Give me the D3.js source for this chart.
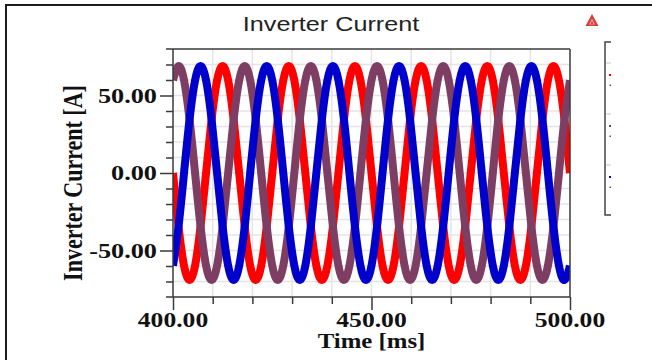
<!DOCTYPE html>
<html><head><meta charset="utf-8">
<script src="https://cdn.jsdelivr.net/npm/d3@7"></script>
<style>html,body{margin:0;padding:0;background:#fff;}svg{display:block;}</style>
</head><body>
<svg id="chart" width="652" height="360"></svg>
<script>
// ---- data ----
const timeMs = [
  400.00, 401.39, 402.78, 404.17, 405.56, 406.94, 408.33, 409.72, 411.11, 412.50, 413.89, 415.28,
  416.67, 418.06, 419.44, 420.83, 422.22, 423.61, 425.00, 426.39, 427.78, 429.17, 430.56, 431.94,
  433.33, 434.72, 436.11, 437.50, 438.89, 440.28, 441.67, 443.06, 444.44, 445.83, 447.22, 448.61,
  450.00, 451.39, 452.78, 454.17, 455.56, 456.94, 458.33, 459.72, 461.11, 462.50, 463.89, 465.28,
  466.67, 468.06, 469.44, 470.83, 472.22, 473.61, 475.00, 476.39, 477.78, 479.17, 480.56, 481.94,
  483.33, 484.72, 486.11, 487.50, 488.89, 490.28, 491.67, 493.06, 494.44, 495.83, 497.22, 498.61,
  500.00
];
const currentA = [ // red
  0, -34.5, -59.8, -69, -59.8, -34.5, 0, 34.5, 59.8, 69, 59.8, 34.5,
  0, -34.5, -59.8, -69, -59.8, -34.5, 0, 34.5, 59.8, 69, 59.8, 34.5,
  0, -34.5, -59.8, -69, -59.8, -34.5, 0, 34.5, 59.8, 69, 59.8, 34.5,
  0, -34.5, -59.8, -69, -59.8, -34.5, 0, 34.5, 59.8, 69, 59.8, 34.5,
  0, -34.5, -59.8, -69, -59.8, -34.5, 0, 34.5, 59.8, 69, 59.8, 34.5,
  0, -34.5, -59.8, -69, -59.8, -34.5, 0, 34.5, 59.8, 69, 59.8, 34.5,
  0
];
const currentB = [ // purple
  59.8, 69, 59.8, 34.5, 0, -34.5, -59.8, -69, -59.8, -34.5, 0, 34.5,
  59.8, 69, 59.8, 34.5, 0, -34.5, -59.8, -69, -59.8, -34.5, 0, 34.5,
  59.8, 69, 59.8, 34.5, 0, -34.5, -59.8, -69, -59.8, -34.5, 0, 34.5,
  59.8, 69, 59.8, 34.5, 0, -34.5, -59.8, -69, -59.8, -34.5, 0, 34.5,
  59.8, 69, 59.8, 34.5, 0, -34.5, -59.8, -69, -59.8, -34.5, 0, 34.5,
  59.8, 69, 59.8, 34.5, 0, -34.5, -59.8, -69, -59.8, -34.5, 0, 34.5,
  59.8
];
const currentC = [ // blue
  -59.8, -34.5, 0, 34.5, 59.8, 69, 59.8, 34.5, 0, -34.5, -59.8, -69,
  -59.8, -34.5, 0, 34.5, 59.8, 69, 59.8, 34.5, 0, -34.5, -59.8, -69,
  -59.8, -34.5, 0, 34.5, 59.8, 69, 59.8, 34.5, 0, -34.5, -59.8, -69,
  -59.8, -34.5, 0, 34.5, 59.8, 69, 59.8, 34.5, 0, -34.5, -59.8, -69,
  -59.8, -34.5, 0, 34.5, 59.8, 69, 59.8, 34.5, 0, -34.5, -59.8, -69,
  -59.8, -34.5, 0, 34.5, 59.8, 69, 59.8, 34.5, 0, -34.5, -59.8, -69,
  -59.8
];
const seriesNames = ["Ia", "Ib", "Ic"];
const seriesColors = ["#ff0000", "#7e3e64", "#0000cd"];
const xDomain = [400, 500];
const yDomain = [-80, 80];
const xMajorTicks = [400, 450, 500];
const xMinorTicks = [410, 420, 430, 440, 460, 470, 480, 490];
const xTickLabels = ["400.00", "450.00", "500.00"];
const yMajorTicks = [-50, 0, 50];
const yMinorTicks = [-70, -60, -40, -30, -20, -10, 10, 20, 30, 40, 60, 70];
const yTickLabels = ["-50.00", "0.00", "50.00"];
const titleText = "Inverter Current";
const xTitle = "Time [ms]";
const yTitle = "Inverter Current [A]";

// ---- drawing ----
const svg = d3.select("#chart");
const L = 173, R = 570, T = 49, B = 297;
const x = d3.scaleLinear().domain(xDomain).range([L, R]);
const y = d3.scaleLinear().domain(yDomain).range([B, T]);
const axisColor = "#3a3a3a";
const serif = "'Liberation Serif','Times New Roman',serif";

svg.append("rect").attr("width", 652).attr("height", 360).attr("fill", "#fff");

// outer frame
svg.append("path").attr("d", "M6,360V5H652").attr("fill", "none")
  .attr("stroke", "#1c1c1c").attr("stroke-width", 2);

// title
svg.append("text").text(titleText)
  .attr("transform", "translate(331,31) scale(1.2,1)")
  .attr("text-anchor", "middle")
  .attr("font-family", "'Liberation Sans',Arial,sans-serif")
  .attr("font-size", 21).attr("fill", "#222");

// small red icon
svg.append("path").attr("d", "M592,14L598.5,26H585.5Z").attr("fill", "#d63c38");
svg.append("path").attr("d", "M592,18.5L595,24.5H589Z").attr("fill", "#f0a29c");
svg.append("path").attr("d", "M592,21L593.3,23.8H590.7Z").attr("fill", "#c62f2c");

// grid
const grid = svg.append("g").attr("stroke", "#e4e4e4").attr("stroke-width", 1.5);
grid.selectAll(".gx").data(xMinorTicks.concat([450])).join("line")
  .attr("x1", d => x(d)).attr("x2", d => x(d)).attr("y1", T).attr("y2", B);
grid.selectAll(".gy").data(yMinorTicks.concat(yMajorTicks)).join("line")
  .attr("x1", L).attr("x2", R).attr("y1", d => y(d)).attr("y2", d => y(d));

// series
svg.append("clipPath").attr("id", "plotClip")
  .append("rect").attr("x", L).attr("y", T).attr("width", R - L).attr("height", B - T);
const series = [currentA, currentB, currentC];
const line = d3.line().x((d, i) => x(timeMs[i])).y(d => y(d)).curve(d3.curveNatural);
svg.append("g").attr("clip-path", "url(#plotClip)")
  .selectAll("path").data(series).join("path")
  .attr("d", d => line(d))
  .attr("fill", "none")
  .attr("stroke", (d, i) => seriesColors[i])
  .attr("stroke-width", 8)
  .attr("stroke-linejoin", "round");

// axes (ticks)
function styleAxis(g) {
  g.select(".domain").remove();
  g.selectAll("line").attr("stroke", axisColor).attr("stroke-width", 1.5);
  g.selectAll("text").remove();
}
svg.append("g").attr("transform", `translate(${L},0)`)
  .call(d3.axisLeft(y).tickValues(yMajorTicks).tickSize(13)).call(styleAxis);
svg.append("g").attr("transform", `translate(${L},0)`)
  .call(d3.axisLeft(y).tickValues(yMinorTicks).tickSize(7)).call(styleAxis);
svg.append("g").attr("transform", `translate(0,${B})`)
  .call(d3.axisBottom(x).tickValues(xMajorTicks).tickSize(13)).call(styleAxis);
svg.append("g").attr("transform", `translate(0,${B})`)
  .call(d3.axisBottom(x).tickValues(xMinorTicks).tickSize(7)).call(styleAxis);

// frame
const frame = svg.append("g").attr("stroke", axisColor).attr("stroke-width", 1.5).attr("fill", "none");
frame.append("line").attr("x1", L - 7).attr("x2", R).attr("y1", T).attr("y2", T);
frame.append("line").attr("x1", L - 7).attr("x2", R).attr("y1", B).attr("y2", B);
frame.append("line").attr("x1", L).attr("x2", L).attr("y1", T).attr("y2", B);
frame.append("line").attr("x1", R).attr("x2", R).attr("y1", T).attr("y2", B);

// tick labels
svg.selectAll(".ylab").data(yMajorTicks).join("text")
  .attr("transform", d => `translate(157,${y(d)}) scale(1.25,1)`)
  .attr("text-anchor", "end").attr("dominant-baseline", "central")
  .attr("font-family", serif).attr("font-weight", "bold").attr("font-size", 21).attr("fill", "#111")
  .text((d, i) => yTickLabels[i]);
svg.selectAll(".xlab").data(xMajorTicks).join("text")
  .attr("transform", d => `translate(${x(d)},327) scale(1.22,1)`)
  .attr("text-anchor", "middle")
  .attr("font-family", serif).attr("font-weight", "bold").attr("font-size", 21).attr("fill", "#111")
  .text((d, i) => xTickLabels[i]);

// axis titles
svg.append("text").text(xTitle)
  .attr("transform", `translate(${(L + R) / 2},348) scale(1.18,1)`)
  .attr("text-anchor", "middle")
  .attr("font-family", serif).attr("font-weight", "bold").attr("font-size", 21).attr("fill", "#111");
svg.append("text").text(yTitle)
  .attr("transform", "translate(73,183) scale(1.2,1) rotate(-90)")
  .attr("text-anchor", "middle").attr("dominant-baseline", "central")
  .attr("font-family", serif).attr("font-weight", "bold").attr("font-size", 22).attr("fill", "#111");

// legend remnant (clipped legend at right edge)
const lg = svg.append("g");
lg.append("path").attr("d", "M611,42H605V215H611").attr("fill", "none")
  .attr("stroke", "#444").attr("stroke-width", 1.5);
const legendY = [63, 114, 165];
lg.selectAll(".sep").data(legendY).join("line")
  .attr("x1", 606).attr("x2", 611).attr("y1", d => d).attr("y2", d => d)
  .attr("stroke", "#c8c8c8").attr("stroke-width", 1);
lg.selectAll(".sw").data(seriesNames).join("rect")
  .attr("x", 609).attr("y", (d, i) => legendY[i] + 11).attr("width", 2).attr("height", 2)
  .attr("fill", (d, i) => seriesColors[i]);
lg.selectAll(".dot").data(seriesNames).join("rect")
  .attr("x", 609.5).attr("y", (d, i) => legendY[i] + 21.5).attr("width", 1.5).attr("height", 1.5)
  .attr("fill", "#555");
</script>
</body></html>
